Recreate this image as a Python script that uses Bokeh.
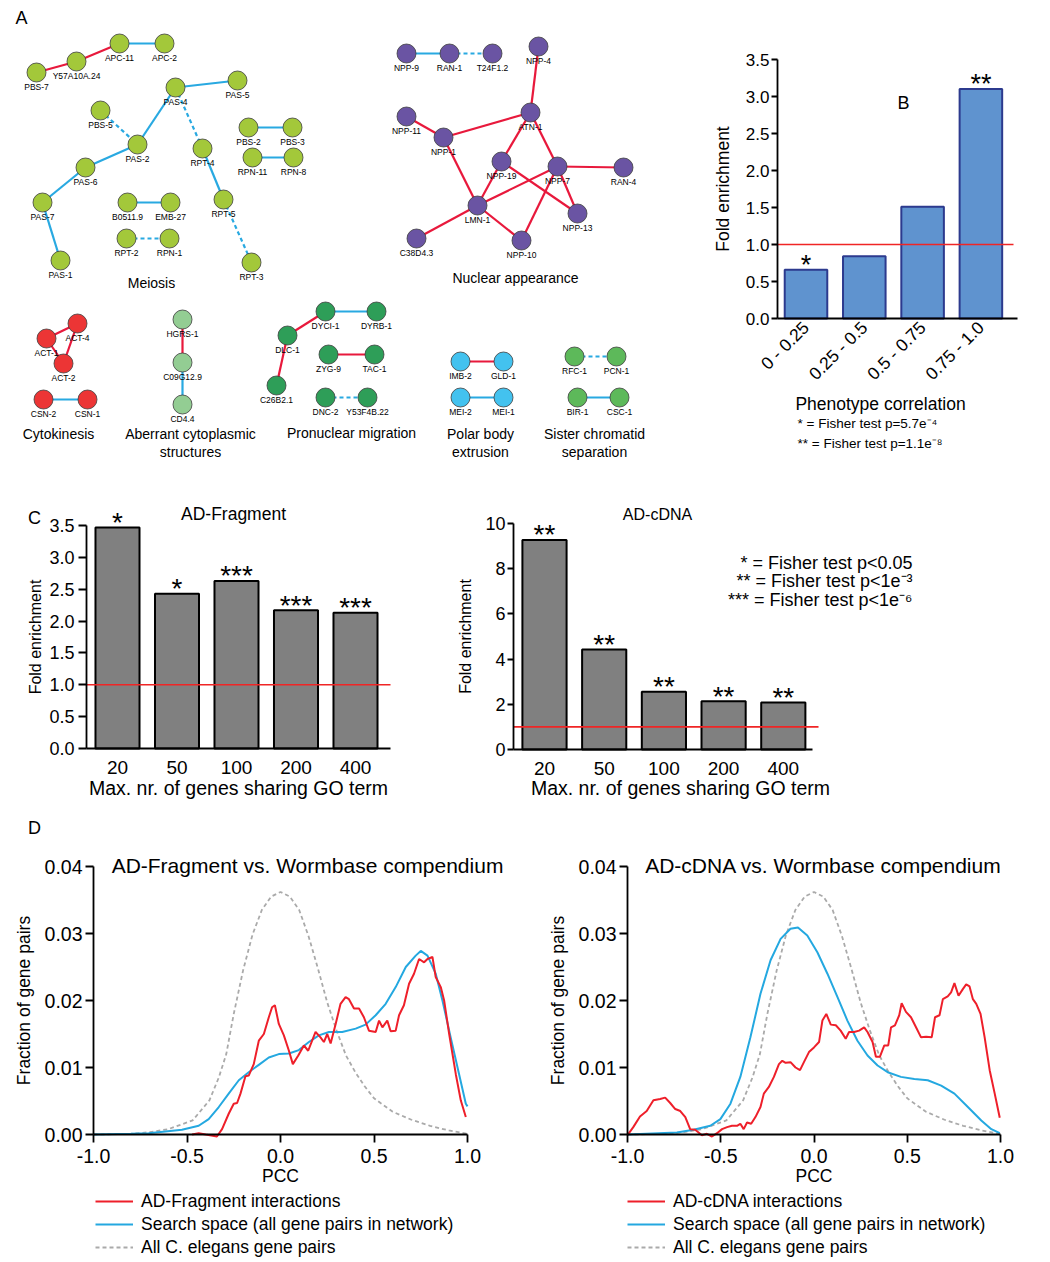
import math
from bokeh.plotting import figure
from bokeh.layouts import column, row
from bokeh.models import (Range1d, FixedTicker, PrintfTickFormatter, Label,
                          Legend, LegendItem, ColumnDataSource)
from bokeh.core.properties import value
from bokeh.embed import file_html
from bokeh.resources import INLINE

FONT = "Liberation Sans"

# ---------------- Panel A : network data ----------------
node_names = ["PBS-7", "Y57A10A.24", "APC-11", "APC-2", "PAS-4", "PAS-5", "PBS-5", "PAS-2", "RPT-4",
              "PBS-2", "PBS-3", "RPN-11", "RPN-8", "PAS-6", "PAS-7", "B0511.9", "EMB-27", "RPT-5",
              "RPT-2", "RPN-1", "PAS-1", "RPT-3",
              "NPP-9", "RAN-1", "T24F1.2", "NPP-4", "ATN-1", "NPP-11", "NPP-1", "NPP-19", "NPP-7",
              "RAN-4", "LMN-1", "NPP-13", "C38D4.3", "NPP-10",
              "ACT-1", "ACT-4", "ACT-2", "CSN-2", "CSN-1",
              "HGRS-1", "C09G12.9", "CD4.4",
              "DLC-1", "DYCI-1", "DYRB-1", "ZYG-9", "TAC-1", "C26B2.1", "DNC-2", "Y53F4B.22",
              "IMB-2", "GLD-1", "MEI-2", "MEI-1",
              "RFC-1", "PCN-1", "BIR-1", "CSC-1"]
node_x = [36, 76, 119, 164, 175, 237, 100, 137, 202, 248, 292, 252, 293, 85, 42, 127, 170, 223,
          126, 169, 60, 251,
          406, 449, 492, 538, 530, 406, 443, 501, 557, 623, 477, 577, 416, 521,
          46, 77, 63, 43, 87,
          182, 182, 182,
          287, 325, 376, 328, 374, 276, 325, 367,
          460, 503, 460, 503,
          574, 616, 577, 619]
node_y = [72, 61, 43, 43, 87, 80, 110, 144, 148, 127, 127, 157, 157, 167, 202, 202, 202, 199,
          238, 238, 260, 262,
          53, 53, 53, 46, 112, 116, 137, 161, 166, 167, 205, 213, 238, 240,
          338, 323, 363, 399, 399,
          319, 362, 404,
          335, 311, 311, 354, 354, 385, 397, 397,
          361, 361, 397, 397,
          356, 356, 397, 397]
node_group = (["Meiosis"] * 22 + ["Nuclear appearance"] * 14 + ["Cytokinesis"] * 5 +
              ["Aberrant cytoplasmic structures"] * 3 + ["Pronuclear migration"] * 8 +
              ["Polar body extrusion"] * 4 + ["Sister chromatid separation"] * 4)
group_colors = {"Meiosis": "#a3c83a", "Nuclear appearance": "#6a54a3", "Cytokinesis": "#ec3535",
                "Aberrant cytoplasmic structures": "#93cd93", "Pronuclear migration": "#2e9e58",
                "Polar body extrusion": "#43c2ef", "Sister chromatid separation": "#5db95a"}

edge_from = ["PBS-7", "Y57A10A.24", "APC-11", "PAS-4", "PAS-4", "PAS-4", "PBS-5", "PAS-2", "PAS-6",
             "PAS-7", "RPT-4", "RPT-5", "PBS-2", "RPN-11", "B0511.9", "RPT-2",
             "NPP-9", "RAN-1", "NPP-4", "ATN-1", "NPP-11", "ATN-1", "ATN-1", "NPP-1", "NPP-19",
             "NPP-19", "NPP-7", "NPP-7", "NPP-7", "NPP-7", "LMN-1", "LMN-1",
             "ACT-1", "ACT-1", "ACT-4", "CSN-2",
             "HGRS-1", "C09G12.9",
             "DLC-1", "DLC-1", "DYCI-1", "ZYG-9", "DNC-2",
             "IMB-2", "MEI-2", "RFC-1", "BIR-1"]
edge_to = ["Y57A10A.24", "APC-11", "APC-2", "PAS-5", "PAS-2", "RPT-4", "PAS-2", "PAS-6", "PAS-7",
           "PAS-1", "RPT-5", "RPT-3", "PBS-3", "RPN-8", "EMB-27", "RPN-1",
           "RAN-1", "T24F1.2", "ATN-1", "NPP-1", "NPP-1", "NPP-19", "NPP-7", "LMN-1", "LMN-1",
           "NPP-13", "LMN-1", "RAN-4", "NPP-13", "NPP-10", "C38D4.3", "NPP-10",
           "ACT-4", "ACT-2", "ACT-2", "CSN-1",
           "C09G12.9", "CD4.4",
           "DYCI-1", "C26B2.1", "DYRB-1", "TAC-1", "Y53F4B.22",
           "GLD-1", "MEI-1", "PCN-1", "CSC-1"]
edge_kind = ["red", "red", "blue", "blue", "blue", "blue_dash", "blue_dash", "blue", "blue",
             "blue", "blue", "blue_dash", "blue", "blue", "blue", "blue_dash",
             "blue", "blue_dash", "red", "red", "red", "red", "red", "red", "red",
             "red", "red", "red", "red", "red", "red", "red",
             "red", "red", "red", "blue",
             "red", "blue",
             "red", "red", "blue", "red", "blue_dash",
             "red", "blue", "blue_dash", "blue"]

group_label_text = ["Meiosis", "Nuclear appearance", "Cytokinesis", "Aberrant cytoplasmic\nstructures",
                    "Pronuclear migration", "Polar body\nextrusion", "Sister chromatid\nseparation"]
group_label_x = [151, 515, 58, 190, 351, 480, 594]
group_label_y = [274, 269, 425, 425, 424, 425, 425]

# ---------------- Panel B ----------------
b_categories = ["0 - 0.25", "0.25 - 0.5", "0.5 - 0.75", "0.75 - 1.0"]
b_values = [0.66, 0.84, 1.51, 3.10]
b_stars = ["*", "", "", "**"]

# ---------------- Panel C ----------------
c_categories = ["20", "50", "100", "200", "400"]
c_frag_values = [3.47, 2.43, 2.63, 2.17, 2.13]
c_frag_stars = ["*", "*", "***", "***", "***"]
c_cdna_values = [9.27, 4.43, 2.55, 2.13, 2.08]
c_cdna_stars = ["**", "**", "**", "**", "**"]

# ---------------- Panel D ----------------
all_pcc = [-1.0, -0.8, -0.7, -0.6, -0.47, -0.38, -0.33, -0.29, -0.25, -0.2, -0.15, -0.1, -0.05, 0.0,
           0.05, 0.1, 0.15, 0.2, 0.25, 0.3, 0.35, 0.4, 0.45, 0.5, 0.6, 0.7, 0.8, 0.9, 1.0]
all_frac = [0.0, 0.0001, 0.00035, 0.0008, 0.0021, 0.0051, 0.0085, 0.012, 0.018, 0.0245, 0.0298,
            0.0335, 0.0355, 0.0362, 0.0355, 0.0335, 0.0296, 0.0248, 0.0197, 0.0155, 0.0118, 0.0093,
            0.0072, 0.0054, 0.0034, 0.0022, 0.0013, 0.0006, 0.0001]

frag_space_pcc = [-1.0, -0.8, -0.705, -0.527, -0.4375, -0.384, -0.33, -0.277, -0.223, -0.17, -0.116,
                  -0.0625, -0.009, 0.045, 0.098, 0.152, 0.205, 0.259, 0.33, 0.402, 0.455, 0.509,
                  0.5625, 0.616, 0.67, 0.723, 0.75, 0.786, 0.83, 0.866, 0.91, 0.955, 0.991, 1.0]
frag_space_frac = [0.0, 0.0001, 0.0002, 0.0007, 0.0013, 0.0023, 0.0041, 0.0061, 0.0081, 0.0093,
                   0.0104, 0.0115, 0.012, 0.0121, 0.0126, 0.0138, 0.0148, 0.0153, 0.0153, 0.0158,
                   0.0164, 0.0178, 0.0195, 0.022, 0.025, 0.0267, 0.0274, 0.0267, 0.024, 0.020,
                   0.0145, 0.009, 0.0046, 0.0042]

frag_int_pcc = [-0.473, -0.4375, -0.4, -0.34, -0.3125, -0.277, -0.25, -0.232, -0.214, -0.1875, -0.17,
                -0.143, -0.116, -0.089, -0.0625, -0.045, -0.030, -0.009, 0.018, 0.045, 0.066, 0.095,
                0.125, 0.148, 0.1875, 0.214, 0.232, 0.25, 0.268, 0.295, 0.321, 0.348, 0.366, 0.393,
                0.42, 0.446, 0.473, 0.509, 0.527, 0.545, 0.571, 0.589, 0.616, 0.634, 0.66, 0.6875,
                0.714, 0.741, 0.768, 0.786, 0.8125, 0.83, 0.857, 0.875, 0.902, 0.9375, 0.964, 0.991]
frag_int_frac = [0.0, 0.0002, 0.0, -0.0003, 0.0008, 0.0031, 0.0046, 0.0047, 0.0061, 0.0087, 0.0088,
                 0.0105, 0.014, 0.015, 0.0175, 0.019, 0.0193, 0.0165, 0.0148, 0.0125, 0.0105, 0.0118,
                 0.0133, 0.0125, 0.0153, 0.0145, 0.0138, 0.015, 0.0136, 0.0165, 0.0195, 0.0205,
                 0.0202, 0.0188, 0.0188, 0.0175, 0.0155, 0.0153, 0.017, 0.016, 0.017, 0.0154, 0.0155,
                 0.0178, 0.0193, 0.0225, 0.024, 0.0262, 0.0257, 0.0262, 0.0265, 0.0235, 0.022, 0.020,
                 0.015, 0.009, 0.0051, 0.0026]

cdna_space_pcc = [-1.0, -0.735, -0.646, -0.556, -0.502, -0.448, -0.395, -0.341, -0.287, -0.233,
                  -0.179, -0.126, -0.086, -0.036, 0.018, 0.072, 0.126, 0.179, 0.233, 0.287, 0.341,
                  0.395, 0.466, 0.538, 0.61, 0.682, 0.753, 0.825, 0.897, 0.951, 0.996]
cdna_space_frac = [0.0, 0.0003, 0.0007, 0.0013, 0.0023, 0.0046, 0.0086, 0.0145, 0.021, 0.026, 0.0292,
                   0.0307, 0.0309, 0.0297, 0.0272, 0.024, 0.0205, 0.017, 0.014, 0.0118, 0.0103,
                   0.0093, 0.0086, 0.0083, 0.0081, 0.0073, 0.0061, 0.0041, 0.0021, 0.0008, 0.0002]

cdna_int_pcc = [-1.0, -0.969, -0.933, -0.897, -0.861, -0.825, -0.798, -0.771, -0.744, -0.717, -0.69,
                -0.664, -0.637, -0.601, -0.574, -0.547, -0.52, -0.493, -0.466, -0.44, -0.413, -0.395,
                -0.377, -0.359, -0.337, -0.314, -0.287, -0.269, -0.242, -0.215, -0.188, -0.17,
                -0.152, -0.126, -0.099, -0.075, -0.054, -0.027, 0.0, 0.027, 0.045, 0.066, 0.09,
                0.117, 0.143, 0.17, 0.188, 0.215, 0.242, 0.269, 0.287, 0.314, 0.332, 0.353, 0.377,
                0.398, 0.413, 0.434, 0.457, 0.47, 0.493, 0.52, 0.547, 0.574, 0.601, 0.631, 0.649,
                0.673, 0.691, 0.717, 0.735, 0.753, 0.775, 0.798, 0.816, 0.834, 0.852, 0.87, 0.893,
                0.915, 0.942, 0.969, 0.996]
cdna_int_frac = [-0.0001, 0.0011, 0.0027, 0.0035, 0.0051, 0.0053, 0.0055, 0.0047, 0.0038, 0.0035,
                 0.0026, 0.0008, 0.0007, -0.0001, 0.0001, -0.0003, 0.0002, 0.0008, 0.0011, 0.0013,
                 0.0013, 0.0016, 0.0008, 0.0018, 0.0016, 0.0026, 0.0041, 0.0061, 0.0071, 0.0086,
                 0.0105, 0.011, 0.0107, 0.0108, 0.010, 0.0096, 0.0108, 0.0123, 0.013, 0.0138, 0.017,
                 0.018, 0.0164, 0.0163, 0.0155, 0.0143, 0.0153, 0.0153, 0.0155, 0.016, 0.0153,
                 0.0138, 0.0116, 0.0116, 0.0133, 0.0133, 0.016, 0.0163, 0.0178, 0.0196, 0.0183,
                 0.0175, 0.016, 0.0145, 0.0146, 0.0145, 0.0175, 0.0178, 0.0202, 0.0206, 0.0212,
                 0.0226, 0.0207, 0.0217, 0.0224, 0.0221, 0.0202, 0.0195, 0.018, 0.0145, 0.0096,
                 0.0061, 0.0025]

RED = "#ee1f2a"
BLUE = "#24a8e0"
GRAY = "#aaaaaa"
LINE_RED = "#f02525"


class Cal:
    """Maps page pixels of a panel's canvas to data units (linear)."""
    def __init__(self, cx0, cx1, cy0, cy1, x0px, xs, y0px, ys):
        self.cx0, self.cx1, self.cy0, self.cy1 = cx0, cx1, cy0, cy1
        self.x0px, self.xs, self.y0px, self.ys = x0px, xs, y0px, ys

    def x(self, px):
        return (px - self.x0px) / self.xs

    def y(self, py):
        return (self.y0px - py) / self.ys

    def fig(self):
        p = figure(width=self.cx1 - self.cx0, height=self.cy1 - self.cy0,
                   x_range=Range1d(self.x(self.cx0), self.x(self.cx1)),
                   y_range=Range1d(self.y(self.cy1), self.y(self.cy0)),
                   toolbar_location=None, output_backend="svg", min_border=0, title=None,
                   outline_line_color=None, background_fill_color="white",
                   border_fill_color="white")
        p.grid.visible = False
        return p


def style_axis(ax, size, label_size=None, tick_out=6, standoff=3, label_standoff=5):
    ax.axis_line_width = 1.8
    ax.axis_line_color = "black"
    ax.major_tick_line_width = 1.8
    ax.major_tick_line_color = "black"
    ax.major_tick_out = tick_out
    ax.major_tick_in = 0
    ax.minor_tick_line_color = None
    ax.major_label_text_font = FONT
    ax.major_label_text_font_size = size
    ax.major_label_text_color = "black"
    ax.major_label_standoff = standoff
    ax.axis_label_text_font = FONT
    ax.axis_label_text_font_style = "normal"
    ax.axis_label_text_color = "black"
    ax.axis_label_text_font_size = label_size or size
    ax.axis_label_standoff = label_standoff


def add_label(p, x, y, text, size, align="center", baseline="middle", angle=0.0):
    p.add_layout(Label(x=x, y=y, text=text, text_font=FONT, text_font_size=size,
                       text_align=align, text_baseline=baseline, angle=angle,
                       text_color="black"))


# ================= Panel A =================
pA = figure(width=658, height=476, x_range=Range1d(0, 658), y_range=Range1d(476, 0),
            x_axis_location=None, y_axis_location=None, toolbar_location=None,
            output_backend="svg", min_border=0, title=None, outline_line_color=None)
pA.grid.visible = False
pos = {n: (x, y) for n, x, y in zip(node_names, node_x, node_y)}
for kind, color, dash in [("red", "#e8193c", "solid"), ("blue", "#29a9e1", "solid"),
                          ("blue_dash", "#29a9e1", "4 3")]:
    sel = [i for i, k in enumerate(edge_kind) if k == kind]
    src = ColumnDataSource(dict(
        x0=[pos[edge_from[i]][0] for i in sel], y0=[pos[edge_from[i]][1] for i in sel],
        x1=[pos[edge_to[i]][0] for i in sel], y1=[pos[edge_to[i]][1] for i in sel]))
    pA.segment("x0", "y0", "x1", "y1", source=src, line_color=color, line_width=2.2,
               line_dash=dash)
node_src = ColumnDataSource(dict(x=node_x, y=node_y, name=node_names,
                                 color=[group_colors[g] for g in node_group]))
pA.scatter("x", "y", source=node_src, marker="circle", size=19, fill_color="color",
           line_color="#3c3c3c", line_width=0.8)
pA.text("x", "y", text="name", source=node_src, text_font=value(FONT), text_font_size="8.5px",
        text_align="center", text_baseline="middle", y_offset=14, text_color="black")
pA.text(x=group_label_x, y=group_label_y, text=group_label_text, text_font=value(FONT),
        text_font_size="14px", text_align="center", text_baseline="top", text_color="black",
        text_line_height=1.15)
add_label(pA, 21, 17, "A", "18px")


def bar_axes(p, cal, ax_left_px, ax_right_px, y_top, y_ticks, y_fmt, y_size, ylab_size,
             ylab_standoff, x_size, x_standoff, categories, idx, y_tick_out=6, y_standoff=2):
    ya = p.yaxis[0]
    style_axis(ya, y_size, ylab_size, tick_out=y_tick_out, standoff=y_standoff,
               label_standoff=ylab_standoff)
    ya.fixed_location = cal.x(ax_left_px)
    ya.bounds = (0, y_top)
    ya.ticker = FixedTicker(ticks=y_ticks)
    ya.formatter = PrintfTickFormatter(format=y_fmt)
    ya.axis_label = "Fold enrichment"
    xa = p.xaxis[0]
    style_axis(xa, x_size, "19.5px", tick_out=0, standoff=x_standoff, label_standoff=0)
    xa.major_tick_line_color = None
    xa.fixed_location = 0
    xa.bounds = (cal.x(ax_left_px), cal.x(ax_right_px))
    xa.ticker = FixedTicker(ticks=idx)
    xa.major_label_overrides = {i: c for i, c in zip(idx, categories)}


# ================= Panel B =================
calB = Cal(658, 1048, 0, 476, 805.5, 58.3, 318, 74)
b_idx = list(range(len(b_categories)))
pB = calB.fig()
pB.vbar(x=b_idx, top=b_values, width=0.73, fill_color="#5f93cf", line_color="#2c3a8e",
        line_width=2)
pB.segment(x0=[calB.x(777)], y0=[1.0], x1=[calB.x(1013)], y1=[1.0], line_color=LINE_RED,
           line_width=1.6)
pB.text(x=b_idx, y=b_values, text=b_stars, text_font=value(FONT), text_font_size="27px",
        text_align="center", text_baseline="alphabetic", y_offset=-5, text_color="black")
bar_axes(pB, calB, 777, 1017, 3.5, [0, 0.5, 1.0, 1.5, 2.0, 2.5, 3.0, 3.5], "%.1f", "17px",
         "17.5px", 10, "17.5px", 6, b_categories, b_idx)
pB.xaxis.major_label_orientation = math.pi / 4
add_label(pB, calB.x(880), calB.y(403), "Phenotype correlation", "17.5px")
add_label(pB, calB.x(797), calB.y(423), "* = Fisher test p=5.7e\u207b\u2074", "13.5px", align="left")
add_label(pB, calB.x(797), calB.y(443), "** = Fisher test p=1.1e\u207b\u2078", "13.5px", align="left")
add_label(pB, calB.x(903), calB.y(102), "B", "18px")

# ================= Panel C =================
c_idx = list(range(len(c_categories)))
calC1 = Cal(0, 440, 476, 808, 117, 59.5, 748, 63.7)
pC1 = calC1.fig()
pC1.vbar(x=c_idx, top=c_frag_values, width=0.74, fill_color="#808080", line_color="black",
         line_width=2)
pC1.segment(x0=[calC1.x(86)], y0=[1.0], x1=[calC1.x(390)], y1=[1.0], line_color=LINE_RED,
            line_width=1.6)
pC1.text(x=c_idx, y=c_frag_values, text=c_frag_stars, text_font=value(FONT),
         text_font_size="28px", text_align="center", text_baseline="alphabetic", y_offset=-5,
         text_color="black")
bar_axes(pC1, calC1, 86, 390, 3.5, [0, 0.5, 1.0, 1.5, 2.0, 2.5, 3.0, 3.5], "%.1f", "18px",
         "16px", 2, "19px", 12, c_categories, c_idx, y_tick_out=8, y_standoff=4)
pC1.xaxis.axis_label = "Max. nr. of genes sharing GO term"
add_label(pC1, calC1.x(233), calC1.y(513), "AD-Fragment", "17.5px")
add_label(pC1, calC1.x(34), calC1.y(517), "C", "18px")

calC2 = Cal(440, 1048, 476, 808, 544, 59.7, 749, 22.6)
pC2 = calC2.fig()
pC2.vbar(x=c_idx, top=c_cdna_values, width=0.74, fill_color="#808080", line_color="black",
         line_width=2)
pC2.segment(x0=[calC2.x(513)], y0=[1.0], x1=[calC2.x(818)], y1=[1.0], line_color=LINE_RED,
            line_width=1.6)
pC2.text(x=c_idx, y=c_cdna_values, text=c_cdna_stars, text_font=value(FONT),
         text_font_size="28px", text_align="center", text_baseline="alphabetic", y_offset=-5,
         text_color="black")
bar_axes(pC2, calC2, 513, 812, 10, [0, 2, 4, 6, 8, 10], "%d", "18px", "16px", 8, "19px", 12,
         c_categories, c_idx)
add_label(pC2, calC2.x(680), calC2.y(787), "Max. nr. of genes sharing GO term", "19.5px")
add_label(pC2, calC2.x(657), calC2.y(514), "AD-cDNA", "16px")
add_label(pC2, calC2.x(912), calC2.y(562), "* = Fisher test p<0.05", "18px", align="right")
add_label(pC2, calC2.x(912), calC2.y(580), "** = Fisher test p<1e\u207b\u00b3", "18px", align="right")
add_label(pC2, calC2.x(912), calC2.y(599), "*** = Fisher test p<1e\u207b\u2076", "18px", align="right")


# ================= Panel D =================
def make_d(cal, int_x, int_y, sp_x, sp_y, int_label, title, title_px, legend_px):
    p = cal.fig()
    r_all = p.line(all_pcc, all_frac, line_color=GRAY, line_width=1.8, line_dash="4 3")
    r_sp = p.line(sp_x, sp_y, line_color=BLUE, line_width=2)
    r_int = p.line(int_x, int_y, line_color=RED, line_width=2)
    ya = p.yaxis[0]
    style_axis(ya, "19.5px", "17.5px", tick_out=8, standoff=3, label_standoff=8)
    ya.fixed_location = -1.0
    ya.bounds = (0, 0.04)
    ya.axis_label = "Fraction of gene pairs"
    ya.ticker = FixedTicker(ticks=[0, 0.01, 0.02, 0.03, 0.04])
    ya.formatter = PrintfTickFormatter(format="%.2f")
    xa = p.xaxis[0]
    style_axis(xa, "19.5px", "17.5px", tick_out=8, standoff=6, label_standoff=0)
    xa.fixed_location = 0
    xa.bounds = (-1.0, 1.0)
    xa.axis_label = "PCC"
    xa.ticker = FixedTicker(ticks=[-1.0, -0.5, 0.0, 0.5, 1.0])
    xa.formatter = PrintfTickFormatter(format="%.1f")
    legend = Legend(items=[LegendItem(label=int_label, renderers=[r_int]),
                           LegendItem(label="Search space (all gene pairs in network)",
                                      renderers=[r_sp]),
                           LegendItem(label="All C. elegans gene pairs", renderers=[r_all])],
                    location=(legend_px - cal.cx0, 2), orientation="vertical",
                    glyph_width=38, glyph_height=22, label_height=22, label_standoff=8,
                    spacing=1, padding=0, margin=0, border_line_color=None,
                    background_fill_alpha=0, label_text_font=FONT,
                    label_text_font_size="17.5px", label_text_color="black")
    p.add_layout(legend)
    add_label(p, cal.x(title_px), cal.y(865), title, "21px")
    return p


calD1 = Cal(0, 527, 808, 1260, 280, 187, 1134, 6700)
pD1 = make_d(calD1, frag_int_pcc, frag_int_frac, frag_space_pcc, frag_space_frac,
             "AD-Fragment interactions", "AD-Fragment vs. Wormbase compendium", 307, 95)
add_label(pD1, calD1.x(34), calD1.y(827), "D", "18px")
calD2 = Cal(527, 1048, 808, 1260, 813.5, 186.5, 1134, 6700)
pD2 = make_d(calD2, cdna_int_pcc, cdna_int_frac, cdna_space_pcc, cdna_space_frac,
             "AD-cDNA interactions", "AD-cDNA vs. Wormbase compendium", 823, 627)

layout = column(row(pA, pB), row(pC1, pC2), row(pD1, pD2))
open("out.html", "w").write(file_html(layout, INLINE))
